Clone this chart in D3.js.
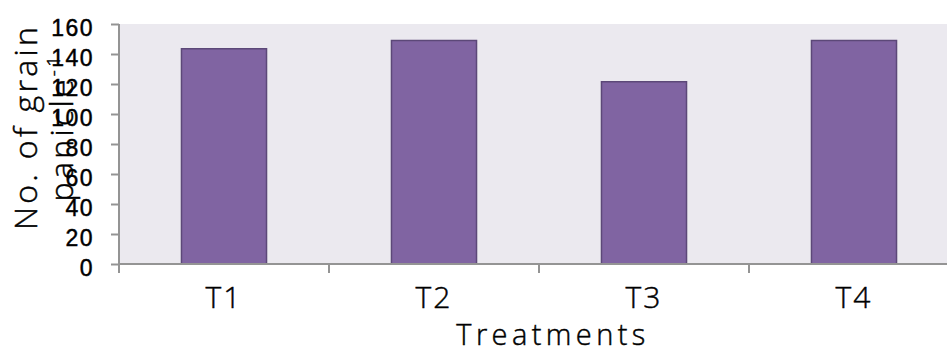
<!DOCTYPE html>
<html>
<head>
<meta charset="utf-8">
<script src="https://cdn.jsdelivr.net/npm/d3@7"></script>
<style>
  html, body { margin: 0; padding: 0; background: #ffffff; }
  svg { display: block; font-family: "Open Sans", sans-serif; font-weight: 300; }
  svg text { stroke: #000; stroke-width: 0.45px; }
</style>
</head>
<body>
<svg id="chart" width="947" height="350"></svg>
<script>
// Grain count per panicle for each treatment
const categories = ["T1", "T2", "T3", "T4"];
const grainValues = [143.5, 149, 121.5, 149];
const yTicks = [0, 20, 40, 60, 80, 100, 120, 140, 160];

const svg = d3.select("#chart");

const plot = { left: 119, right: 959, top: 24, bottom: 264 };

const x = d3.scaleBand()
  .domain(categories)
  .range([plot.left, plot.right])
  .paddingInner(0.595)
  .paddingOuter(0.2975);

const y = d3.scaleLinear()
  .domain([0, 160])
  .range([plot.bottom, plot.top]);

// plot area background
svg.append("rect")
  .attr("x", plot.left)
  .attr("y", plot.top)
  .attr("width", plot.right - plot.left)
  .attr("height", plot.bottom - plot.top)
  .attr("fill", "#ebe9ef");

// bars
svg.append("g")
  .selectAll("rect")
  .data(grainValues)
  .join("rect")
  .attr("x", (d, i) => x(categories[i]))
  .attr("y", d => y(d))
  .attr("width", x.bandwidth())
  .attr("height", d => y(0) - y(d))
  .attr("fill", "#8064a2")
  .attr("stroke", "#5c4878")
  .attr("stroke-width", 1.5);

const axisColor = "#949494";

// y axis
const yAxis = svg.append("g")
  .attr("transform", `translate(${plot.left},0)`)
  .call(d3.axisLeft(y).tickValues(yTicks).tickSize(8).tickPadding(17).tickSizeOuter(0));
yAxis.select(".domain").attr("stroke", axisColor).attr("stroke-width", 2)
  .attr("d", `M0,${plot.top}V${plot.bottom + 3}`);
yAxis.selectAll(".tick line").attr("stroke", axisColor).attr("stroke-width", 2);
yAxis.selectAll(".tick text")
  .attr("fill", "#000")
  .attr("font-size", 23)
  .attr("letter-spacing", "1.5px")
  .attr("dy", "0.52em");

// x axis line and category boundary ticks
const step = x.step();
const gap = step - x.bandwidth();
const boundaries = categories.map(c => x(c) - gap / 2).concat([x(categories[categories.length - 1]) + x.bandwidth() + gap / 2]);

const xAxis = svg.append("g");
xAxis.append("line")
  .attr("x1", plot.left).attr("x2", plot.right)
  .attr("y1", plot.bottom).attr("y2", plot.bottom)
  .attr("stroke", axisColor).attr("stroke-width", 2);
xAxis.selectAll("line.tick")
  .data(boundaries)
  .join("line")
  .attr("class", "tick")
  .attr("x1", d => d).attr("x2", d => d)
  .attr("y1", plot.bottom).attr("y2", plot.bottom + 9)
  .attr("stroke", axisColor).attr("stroke-width", 2);
xAxis.selectAll("text")
  .data(categories)
  .join("text")
  .attr("x", d => x(d) + x.bandwidth() / 2)
  .attr("y", 308)
  .attr("text-anchor", "middle")
  .attr("font-size", 30)
  .attr("letter-spacing", "2px")
  .attr("fill", "#000")
  .text(d => d);

// axis titles
svg.append("text")
  .attr("x", 553)
  .attr("y", 344.5)
  .attr("text-anchor", "middle")
  .attr("font-size", 29)
  .attr("letter-spacing", "4.4px")
  .attr("fill", "#000")
  .text("Treatments");

const yTitle = svg.append("text")
  .attr("transform", "translate(37,127) rotate(-90)")
  .attr("text-anchor", "middle")
  .attr("font-size", 32)
  .attr("letter-spacing", "3.3px")
  .attr("fill", "#000");
yTitle.append("tspan").attr("x", 0).attr("y", 0).text("No. of grain");
const line2 = yTitle.append("tspan").attr("x", 0).attr("y", 36);
line2.append("tspan").text("panicle");
line2.append("tspan").attr("font-size", 19).attr("dy", -13).text("-1");
</script>
</body>
</html>
